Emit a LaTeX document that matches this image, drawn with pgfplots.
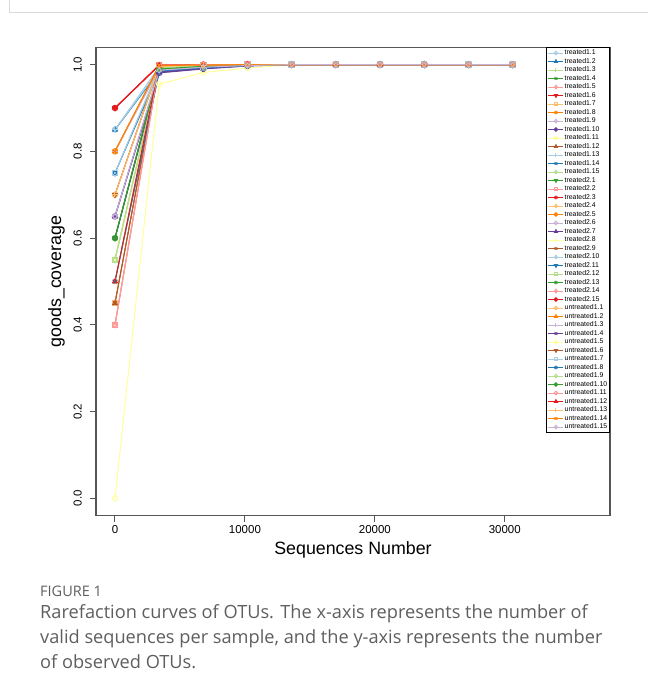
\documentclass[border=0pt]{standalone}
\usepackage{fontspec}
\setmainfont{Liberation Sans}
\newfontfamily\capfont{Open Sans}
\usepackage{pgfplots}
\pgfplotsset{compat=1.18}

% ColorBrewer "Paired" palette
\definecolor{c1}{HTML}{A6CEE3}
\definecolor{c2}{HTML}{1F78B4}
\definecolor{c3}{HTML}{B2DF8A}
\definecolor{c4}{HTML}{33A02C}
\definecolor{c5}{HTML}{FB9A99}
\definecolor{c6}{HTML}{E31A1C}
\definecolor{c7}{HTML}{FDBF6F}
\definecolor{c8}{HTML}{FF7F00}
\definecolor{c9}{HTML}{CAB2D6}
\definecolor{c10}{HTML}{6A3D9A}
\definecolor{c11}{HTML}{FFFF99}
\definecolor{c12}{HTML}{B15928}
\definecolor{axgray}{HTML}{555555}
\definecolor{framegray}{HTML}{DADADA}
\definecolor{capgray}{HTML}{5E5E5E}

% plotting symbols 1..10
\tikzset{
  pch1/.style={mark=o},
  pch2/.style={mark=triangle},
  pch3/.style={mark=+},
  pch4/.style={mark=x},
  pch5/.style={mark=diamond},
  pch6/.style={mark=triangle, mark options={solid, rotate=180}},
  pch7/.style={mark=square},
  pch8/.style={mark=asterisk},
  pch9/.style={mark=diamond},
  pch10/.style={mark=oplus},
}

% one rarefaction curve: style, sample name, coverage at the first four depths
\newcommand{\series}[6]{%
  \addplot[#1] coordinates {(0,#3) (3400,#4) (6800,#5) (10200,#6) (13600,1) (17000,1) (20400,1) (23800,1) (27200,1) (30600,1)};
  \addlegendentry{#2}}

\begin{document}
\begin{tikzpicture}[x=1bp,y=1bp]
\useasboundingbox (0,0) rectangle (648,695);
\draw[framegray, line width=1bp] (9,695) -- (9,682) -- (648,682);

\begin{axis}[
  at={(96bp,179.3bp)}, anchor=south west,
  scale only axis, width=514bp, height=468.4bp,
  xmin=-1462, xmax=38100, ymin=-0.04, ymax=1.04,
  scaled x ticks=false, scaled y ticks=false,
  xtick={0,10000,20000,30000}, xticklabels={0,10000,20000,30000},
  ytick={0,0.2,0.4,0.6,0.8,1.0}, yticklabels={0.0,0.2,0.4,0.6,0.8,1.0},
  xtick pos=left, ytick pos=left, tick align=outside,
  major tick length=6bp,
  tick style={line width=1bp, color=axgray},
  axis line style={line width=1.4bp, color=axgray},
  /pgf/number format/assume math mode=true,
  tick label style={font=\fontsize{11.5bp}{13bp}\selectfont},
  yticklabel style={rotate=90, anchor=south, inner sep=0pt},
  xticklabel style={anchor=north, inner sep=0pt},
  yticklabel shift=8bp, xticklabel shift=4bp,
  xlabel={Sequences Number}, ylabel={goods\_coverage},
  label style={font=\fontsize{17.8bp}{20bp}\selectfont},
  xlabel style={at={(axis description cs:0.5,-0.083)}, anchor=base},
  ylabel style={at={(axis description cs:-0.068,0.5)}, rotate=0, anchor=base},
  every axis plot/.append style={line width=1bp, mark size=2.7bp},
  legend cell align=left,
  legend image code/.code={\draw[mark repeat=2, mark phase=2, #1, mark size=1.8bp] plot coordinates {(0bp,0bp) (7.5bp,0bp) (15bp,0bp)};},
  legend style={at={(1,1)}, anchor=north east, draw=black, line width=1bp, fill=white,
    inner xsep=1.5bp, inner ysep=1bp, row sep=0pt,
    font=\fontsize{6.9bp}{8bp}\selectfont,
    nodes={inner sep=0.75bp, text height=5.3bp, text depth=1.7bp}},
]
\series{c1,pch1}{treated1.1}{0.85}{0.995}{0.998}{0.999}
\series{c2,pch2}{treated1.2}{0.85}{0.985}{0.993}{0.998}
\series{c3,pch3}{treated1.3}{0.55}{0.990}{0.996}{0.999}
\series{c4,pch4}{treated1.4}{0.60}{0.988}{0.995}{0.998}
\series{c5,pch5}{treated1.5}{0.40}{0.997}{0.999}{1}
\series{c6,pch6}{treated1.6}{0.90}{0.998}{0.999}{1}
\series{c7,pch7}{treated1.7}{0.45}{0.994}{0.998}{0.999}
\series{c8,pch8}{treated1.8}{0.80}{0.996}{0.998}{1}
\series{c9,pch9}{treated1.9}{0.65}{0.986}{0.994}{0.998}
\series{c10,pch10}{treated1.10}{0.65}{0.981}{0.990}{0.997}
\series{c11,pch1}{treated1.11}{0.00}{0.955}{0.982}{0.992}
\series{c12,pch2}{treated1.12}{0.45}{0.996}{0.999}{1}
\series{c1,pch3}{treated1.13}{0.85}{0.989}{0.995}{0.999}
\series{c2,pch4}{treated1.14}{0.50}{0.983}{0.992}{0.998}
\series{c3,pch5}{treated1.15}{0.55}{0.992}{0.997}{0.999}
\series{c4,pch6}{treated2.1}{0.60}{0.991}{0.996}{0.999}
\series{c5,pch7}{treated2.2}{0.40}{0.998}{0.999}{1}
\series{c6,pch8}{treated2.3}{0.90}{0.999}{1}{1}
\series{c7,pch9}{treated2.4}{0.70}{0.995}{0.998}{1}
\series{c8,pch10}{treated2.5}{0.80}{0.997}{0.999}{1}
\series{c9,pch1}{treated2.6}{0.65}{0.988}{0.995}{0.999}
\series{c10,pch2}{treated2.7}{0.65}{0.982}{0.991}{0.997}
\series{c11,pch3}{treated2.8}{0.55}{0.993}{0.997}{0.999}
\series{c12,pch4}{treated2.9}{0.45}{0.997}{0.999}{1}
\series{c1,pch5}{treated2.10}{0.75}{0.993}{0.997}{0.999}
\series{c2,pch6}{treated2.11}{0.75}{0.984}{0.992}{0.998}
\series{c3,pch7}{treated2.12}{0.55}{0.991}{0.996}{0.999}
\series{c4,pch8}{treated2.13}{0.60}{0.989}{0.995}{0.999}
\series{c5,pch9}{treated2.14}{0.40}{0.998}{0.999}{1}
\series{c6,pch10}{treated2.15}{0.90}{0.999}{1}{1}
\series{c7,pch1}{untreated1.1}{0.70}{0.996}{0.999}{1}
\series{c8,pch2}{untreated1.2}{0.80}{0.997}{0.999}{1}
\series{c9,pch3}{untreated1.3}{0.80}{0.990}{0.996}{0.999}
\series{c10,pch4}{untreated1.4}{0.60}{0.983}{0.992}{0.998}
\series{c11,pch5}{untreated1.5}{0.50}{0.994}{0.998}{1}
\series{c12,pch6}{untreated1.6}{0.70}{0.997}{0.999}{1}
\series{c1,pch7}{untreated1.7}{0.75}{0.992}{0.997}{0.999}
\series{c2,pch8}{untreated1.8}{0.50}{0.985}{0.993}{0.998}
\series{c3,pch9}{untreated1.9}{0.55}{0.993}{0.997}{0.999}
\series{c4,pch10}{untreated1.10}{0.60}{0.990}{0.996}{0.999}
\series{c5,pch1}{untreated1.11}{0.40}{0.999}{1}{1}
\series{c6,pch2}{untreated1.12}{0.50}{0.998}{0.999}{1}
\series{c7,pch3}{untreated1.13}{0.70}{0.996}{0.999}{1}
\series{c8,pch4}{untreated1.14}{0.80}{0.998}{0.999}{1}
\series{c9,pch5}{untreated1.15}{0.65}{0.987}{0.994}{0.998}
\end{axis}

\node[anchor=base west, inner sep=0pt, text=capgray, font=\capfont\fontsize{14.5bp}{16bp}\selectfont] at (40,98) {FIGURE 1};
\begin{scope}[every node/.style={anchor=base west, inner sep=0pt, text=capgray, font=\capfont\fontsize{18.2bp}{20bp}\selectfont}]
\node at (40,76) {Rarefaction curves of OTUs. The x-axis represents the number of};
\node at (40,51) {valid sequences per sample, and the y-axis represents the number};
\node at (40,26) {of observed OTUs.};
\end{scope}
\end{tikzpicture}
\end{document}
